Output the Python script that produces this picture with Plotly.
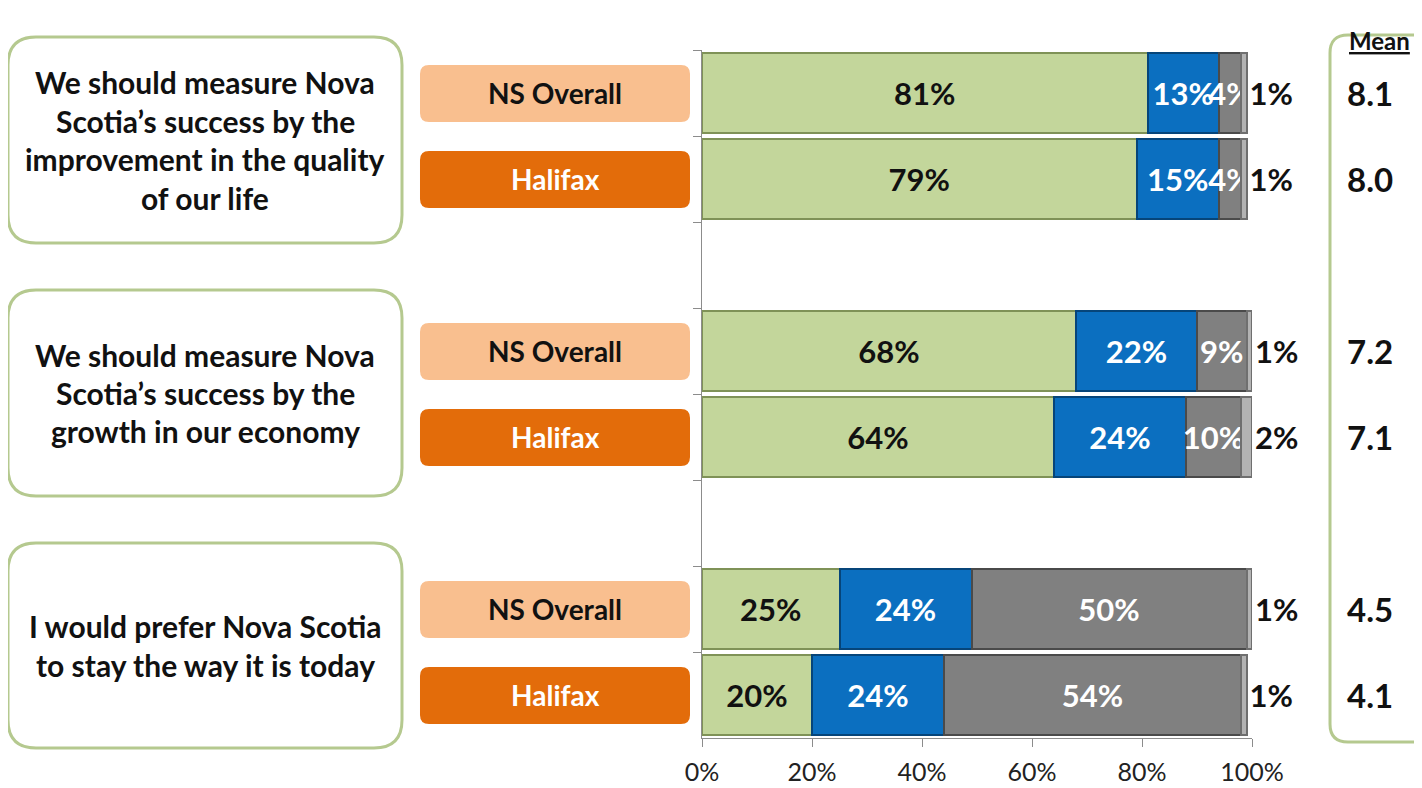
import plotly.graph_objects as go

# survey results, top to bottom
statements = [
    ["We should measure Nova", "Scotia’s success by the", "improvement in the quality", "of our life"],
    ["We should measure Nova", "Scotia’s success by the", "growth in our economy"],
    ["I would prefer Nova Scotia", "to stay the way it is today"],
]
groups = ["NS Overall", "Halifax"]
rows = ["q1_ns", "q1_hfx", "gap1", "q2_ns", "q2_hfx", "gap2", "q3_ns", "q3_hfx"]
bar_rows = ["q1_ns", "q1_hfx", "q2_ns", "q2_hfx", "q3_ns", "q3_hfx"]
agree = [81, 79, 68, 64, 25, 20]
neutral = [13, 15, 22, 24, 24, 24]
disagree = [4, 4, 9, 10, 50, 54]
dont_know = [1, 1, 1, 2, 1, 1]
means = [8.1, 8.0, 7.2, 7.1, 4.5, 4.1]
x_ticks = [0, 20, 40, 60, 80, 100]

# page body has an 8px margin, so the figure is drawn 8px in from the corner
OFF = 8
W, H = 1422 - OFF, 788 - OFF
FONT = "Lato"
BOX_GREEN = "#b5c98f"


def px(x):
    return (x - OFF) / W


def py(y):
    return 1 - (y - OFF) / H


def round_rect(x0, y0, x1, y1, r):
    # pixel box -> paper path with rounded corners
    pts = [
        ("M", [(x0 + r, y0)]), ("L", [(x1 - r, y0)]), ("Q", [(x1, y0), (x1, y0 + r)]),
        ("L", [(x1, y1 - r)]), ("Q", [(x1, y1), (x1 - r, y1)]), ("L", [(x0 + r, y1)]),
        ("Q", [(x0, y1), (x0, y1 - r)]), ("L", [(x0, y0 + r)]), ("Q", [(x0, y0), (x0 + r, y0)]),
    ]
    out = []
    for cmd, coords in pts:
        out.append(cmd + " " + " ".join(f"{px(a):.5f},{py(b):.5f}" for a, b in coords))
    return " ".join(out) + " Z"


segments = [
    ("Agree", agree, "#c3d69b", "#7f9257", "#111111", "inside"),
    ("Neutral", neutral, "#0b6fc0", "#06457a", "#ffffff", "inside"),
    ("Disagree", disagree, "#808080", "#4a4a4a", "#ffffff", "inside"),
    ("Don't know", dont_know, "#b3b3b3", "#6f6f6f", "#111111", "outside"),
]

fig = go.Figure()
for name, vals, color, edge, tcolor, tpos in segments:
    fig.add_trace(go.Bar(
        y=bar_rows, x=vals, name=name, orientation="h",
        marker=dict(color=color, line=dict(color=edge, width=2)),
        text=[f"{v}%" for v in vals], texttemplate="<b>%{text}</b>",
        textposition=tpos, constraintext="none", textangle=0,
        insidetextanchor="middle", cliponaxis=False,
        textfont=dict(family=FONT, size=31, color=tcolor),
        insidetextfont=dict(family=FONT, size=31, color=tcolor),
        outsidetextfont=dict(family=FONT, size=31, color="#111111"),
    ))

shapes = []
annotations = []

# statement boxes on the left
stmt_boxes = [(37, 243), (290, 496), (543, 748)]
LINE_H = 38.5
for lines, (top, bottom) in zip(statements, stmt_boxes):
    shapes.append(dict(type="path", xref="paper", yref="paper",
                       path=round_rect(8, top, 402, bottom, 28),
                       line=dict(color=BOX_GREEN, width=3), fillcolor="white", layer="below"))
    mid = (top + bottom) / 2
    for k, line in enumerate(lines):
        ly = mid + (k - (len(lines) - 1) / 2) * LINE_H
        annotations.append(dict(x=px(205), y=py(ly), xref="paper", yref="paper",
                                xanchor="center", yanchor="middle",
                                text=f"<b>{line}</b>", showarrow=False,
                                font=dict(family=FONT, size=30, color="#111111")))

# group label boxes
slot = (738 - 50) / len(rows)
for r in bar_rows:
    i = rows.index(r)
    cy = 50 + slot * (i + 0.5)
    is_ns = r.endswith("_ns")
    label = groups[0] if is_ns else groups[1]
    shapes.append(dict(type="path", xref="paper", yref="paper",
                       path=round_rect(420, cy - 28, 690, cy + 29, 9),
                       line=dict(width=0), fillcolor="#f9bf8f" if is_ns else "#e36c0a", layer="below"))
    annotations.append(dict(x=px(555), y=r, xref="paper", yref="y", text=f"<b>{label}</b>",
                            xanchor="center", yanchor="middle", showarrow=False,
                            font=dict(family=FONT, size=28, color="#111111" if is_ns else "#ffffff")))

# mean column
shapes.append(dict(type="path", xref="paper", yref="paper",
                   path=round_rect(1330, 35, 1460, 742, 18),
                   line=dict(color=BOX_GREEN, width=3), fillcolor="rgba(0,0,0,0)", layer="below"))
annotations.append(dict(x=px(1379), y=py(41), xref="paper", yref="paper", text="<b><u>Mean</u></b>",
                        xanchor="center", yanchor="middle",
                        showarrow=False, font=dict(family=FONT, size=24, color="#111111")))
for r, m in zip(bar_rows, means):
    annotations.append(dict(x=px(1370), y=r, xref="paper", yref="y", text=f"<b>{m:.1f}</b>",
                            xanchor="center", yanchor="middle",
                            showarrow=False, font=dict(family=FONT, size=33, color="#111111")))

fig.update_layout(
    width=W, height=H, template="none", barmode="stack", bargap=0.07,
    showlegend=False, plot_bgcolor="white", paper_bgcolor="white",
    margin=dict(l=0, r=0, t=0, b=0),
    shapes=shapes, annotations=annotations,
    xaxis=dict(domain=[px(702), px(1252)], range=[0, 100], tickvals=x_ticks,
               ticktext=[f"{t}%" for t in x_ticks], ticklabelstandoff=4,
               ticks="outside", ticklen=8, tickcolor="#8c8c8c", showline=True, linecolor="#8c8c8c",
               linewidth=1, showgrid=False, zeroline=False, automargin=False,
               tickfont=dict(family=FONT, size=25, color="#222222")),
    yaxis=dict(domain=[py(738), py(50)], type="category", categoryorder="array", categoryarray=rows,
               range=[len(rows) - 0.5, -0.5], showticklabels=False, ticks="outside", ticklen=8,
               tickson="boundaries", tickcolor="#8c8c8c", showline=True, linecolor="#8c8c8c",
               showgrid=False, zeroline=False, automargin=False),
)

fig.write_html("out.html")
